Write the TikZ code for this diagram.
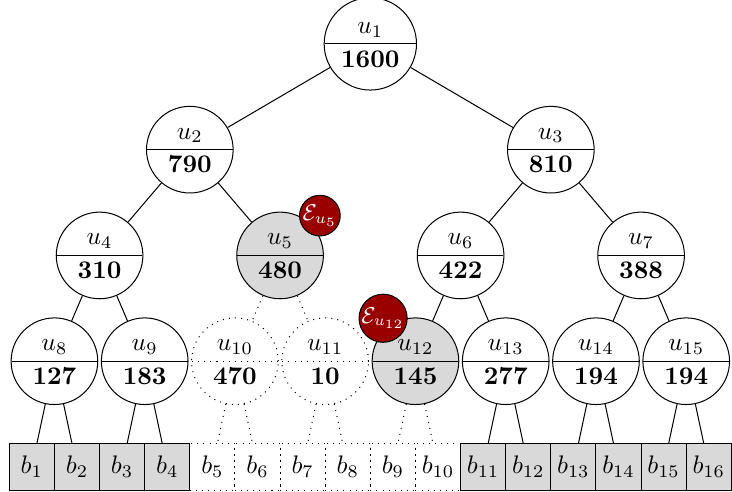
\documentclass[tikz,border=0pt]{standalone}
\usetikzlibrary{shapes.multipart}

\tikzset{
  treenode/.style = {circle split, draw, minimum size = 1.2cm, inner sep = 2.5pt},
  hotnode/.style = {treenode, fill = black!15},
  deadnode/.style = {treenode, dotted},
  bucket/.style = {rectangle, draw, minimum width = 0.625cm, minimum height = 0.64cm, inner sep = 0pt, outer sep = 0pt},
  hotbucket/.style = {bucket, fill = black!15},
  deadbucket/.style = {bucket, dotted},
  badge/.style = {circle, draw, fill = red!60!black, text = white, inner sep = 0pt, font = \small},
  deadedge/.style = {dotted}
}

\begin{document}
\begin{tikzpicture}
      \useasboundingbox (-0.129, -0.346) rectangle (10.009, 6.468);

      % buckets
      % -------
      \node [deadbucket] (b5)  at (2.8125, 0) {$b_{5}$};
      \node [deadbucket] (b6)  at (3.4375, 0) {$b_{6}$};
      \node [deadbucket] (b7)  at (4.0625, 0) {$b_{7}$};
      \node [deadbucket] (b8)  at (4.6875, 0) {$b_{8}$};
      \node [deadbucket] (b9)  at (5.3125, 0) {$b_{9}$};
      \node [deadbucket] (b10) at (5.9375, 0) {$b_{10}$};

      \node [hotbucket] (b1)  at (0.3125, 0) {$b_{1}$};
      \node [hotbucket] (b2)  at (0.9375, 0) {$b_{2}$};
      \node [hotbucket] (b3)  at (1.5625, 0) {$b_{3}$};
      \node [hotbucket] (b4)  at (2.1875, 0) {$b_{4}$};
      \node [hotbucket] (b11) at (6.5625, 0) {$b_{11}$};
      \node [hotbucket] (b12) at (7.1875, 0) {$b_{12}$};
      \node [hotbucket] (b13) at (7.8125, 0) {$b_{13}$};
      \node [hotbucket] (b14) at (8.4375, 0) {$b_{14}$};
      \node [hotbucket] (b15) at (9.0625, 0) {$b_{15}$};
      \node [hotbucket] (b16) at (9.6875, 0) {$b_{16}$};

      % tree
      % ----
      \node [treenode] (u1) at (5.0, 5.86) {$u_{1}$ \nodepart{lower} $\mathbf{1600}$};

      \node [treenode] (u2) at (2.5, 4.395) {$u_{2}$ \nodepart{lower} $\mathbf{790}$};
      \node [treenode] (u3) at (7.5, 4.395) {$u_{3}$ \nodepart{lower} $\mathbf{810}$};

      \node [treenode] (u4) at (1.25, 2.93) {$u_{4}$ \nodepart{lower} $\mathbf{310}$};
      \node [hotnode]  (u5) at (3.75, 2.93) {$u_{5}$ \nodepart{lower} $\mathbf{480}$};
      \node [treenode] (u6) at (6.25, 2.93) {$u_{6}$ \nodepart{lower} $\mathbf{422}$};
      \node [treenode] (u7) at (8.75, 2.93) {$u_{7}$ \nodepart{lower} $\mathbf{388}$};

      \node [treenode] (u8)  at (0.625, 1.465) {$u_{8}$ \nodepart{lower} $\mathbf{127}$};
      \node [treenode] (u9)  at (1.875, 1.465) {$u_{9}$ \nodepart{lower} $\mathbf{183}$};
      \node [deadnode] (u10) at (3.125, 1.465) {$u_{10}$ \nodepart{lower} $\mathbf{470}$};
      \node [deadnode] (u11) at (4.375, 1.465) {$u_{11}$ \nodepart{lower} $\mathbf{10}$};
      \node [hotnode]  (u12) at (5.625, 1.465) {$u_{12}$ \nodepart{lower} $\mathbf{145}$};
      \node [treenode] (u13) at (6.875, 1.465) {$u_{13}$ \nodepart{lower} $\mathbf{277}$};
      \node [treenode] (u14) at (8.125, 1.465) {$u_{14}$ \nodepart{lower} $\mathbf{194}$};
      \node [treenode] (u15) at (9.375, 1.465) {$u_{15}$ \nodepart{lower} $\mathbf{194}$};

      % edges
      % -----
      \draw (u1) -- (u2);
      \draw (u1) -- (u3);
      \draw (u2) -- (u4);
      \draw (u2) -- (u5);
      \draw (u3) -- (u6);
      \draw (u3) -- (u7);
      \draw (u4) -- (u8);
      \draw (u4) -- (u9);
      \draw [deadedge] (u5) -- (u10);
      \draw [deadedge] (u5) -- (u11);
      \draw (u6) -- (u12);
      \draw (u6) -- (u13);
      \draw (u7) -- (u14);
      \draw (u7) -- (u15);

      \draw (u8) -- (b1);
      \draw (u8) -- (b2);
      \draw (u9) -- (b3);
      \draw (u9) -- (b4);
      \draw [deadedge] (u10) -- (b5);
      \draw [deadedge] (u10) -- (b6);
      \draw [deadedge] (u11) -- (b7);
      \draw [deadedge] (u11) -- (b8);
      \draw [deadedge] (u12) -- (b9);
      \draw [deadedge] (u12) -- (b10);
      \draw (u13) -- (b11);
      \draw (u13) -- (b12);
      \draw (u14) -- (b13);
      \draw (u14) -- (b14);
      \draw (u15) -- (b15);
      \draw (u15) -- (b16);

      % badges
      % ------
      \node [badge, shift = {(45:0.78)}]  (e5)  at (u5)  {$\mathcal{E}_{u_5}$};
      \node [badge, shift = {(127:0.745)}] (e12) at (u12) {$\mathcal{E}_{u_{12}}$};
    \end{tikzpicture}
\end{document}
